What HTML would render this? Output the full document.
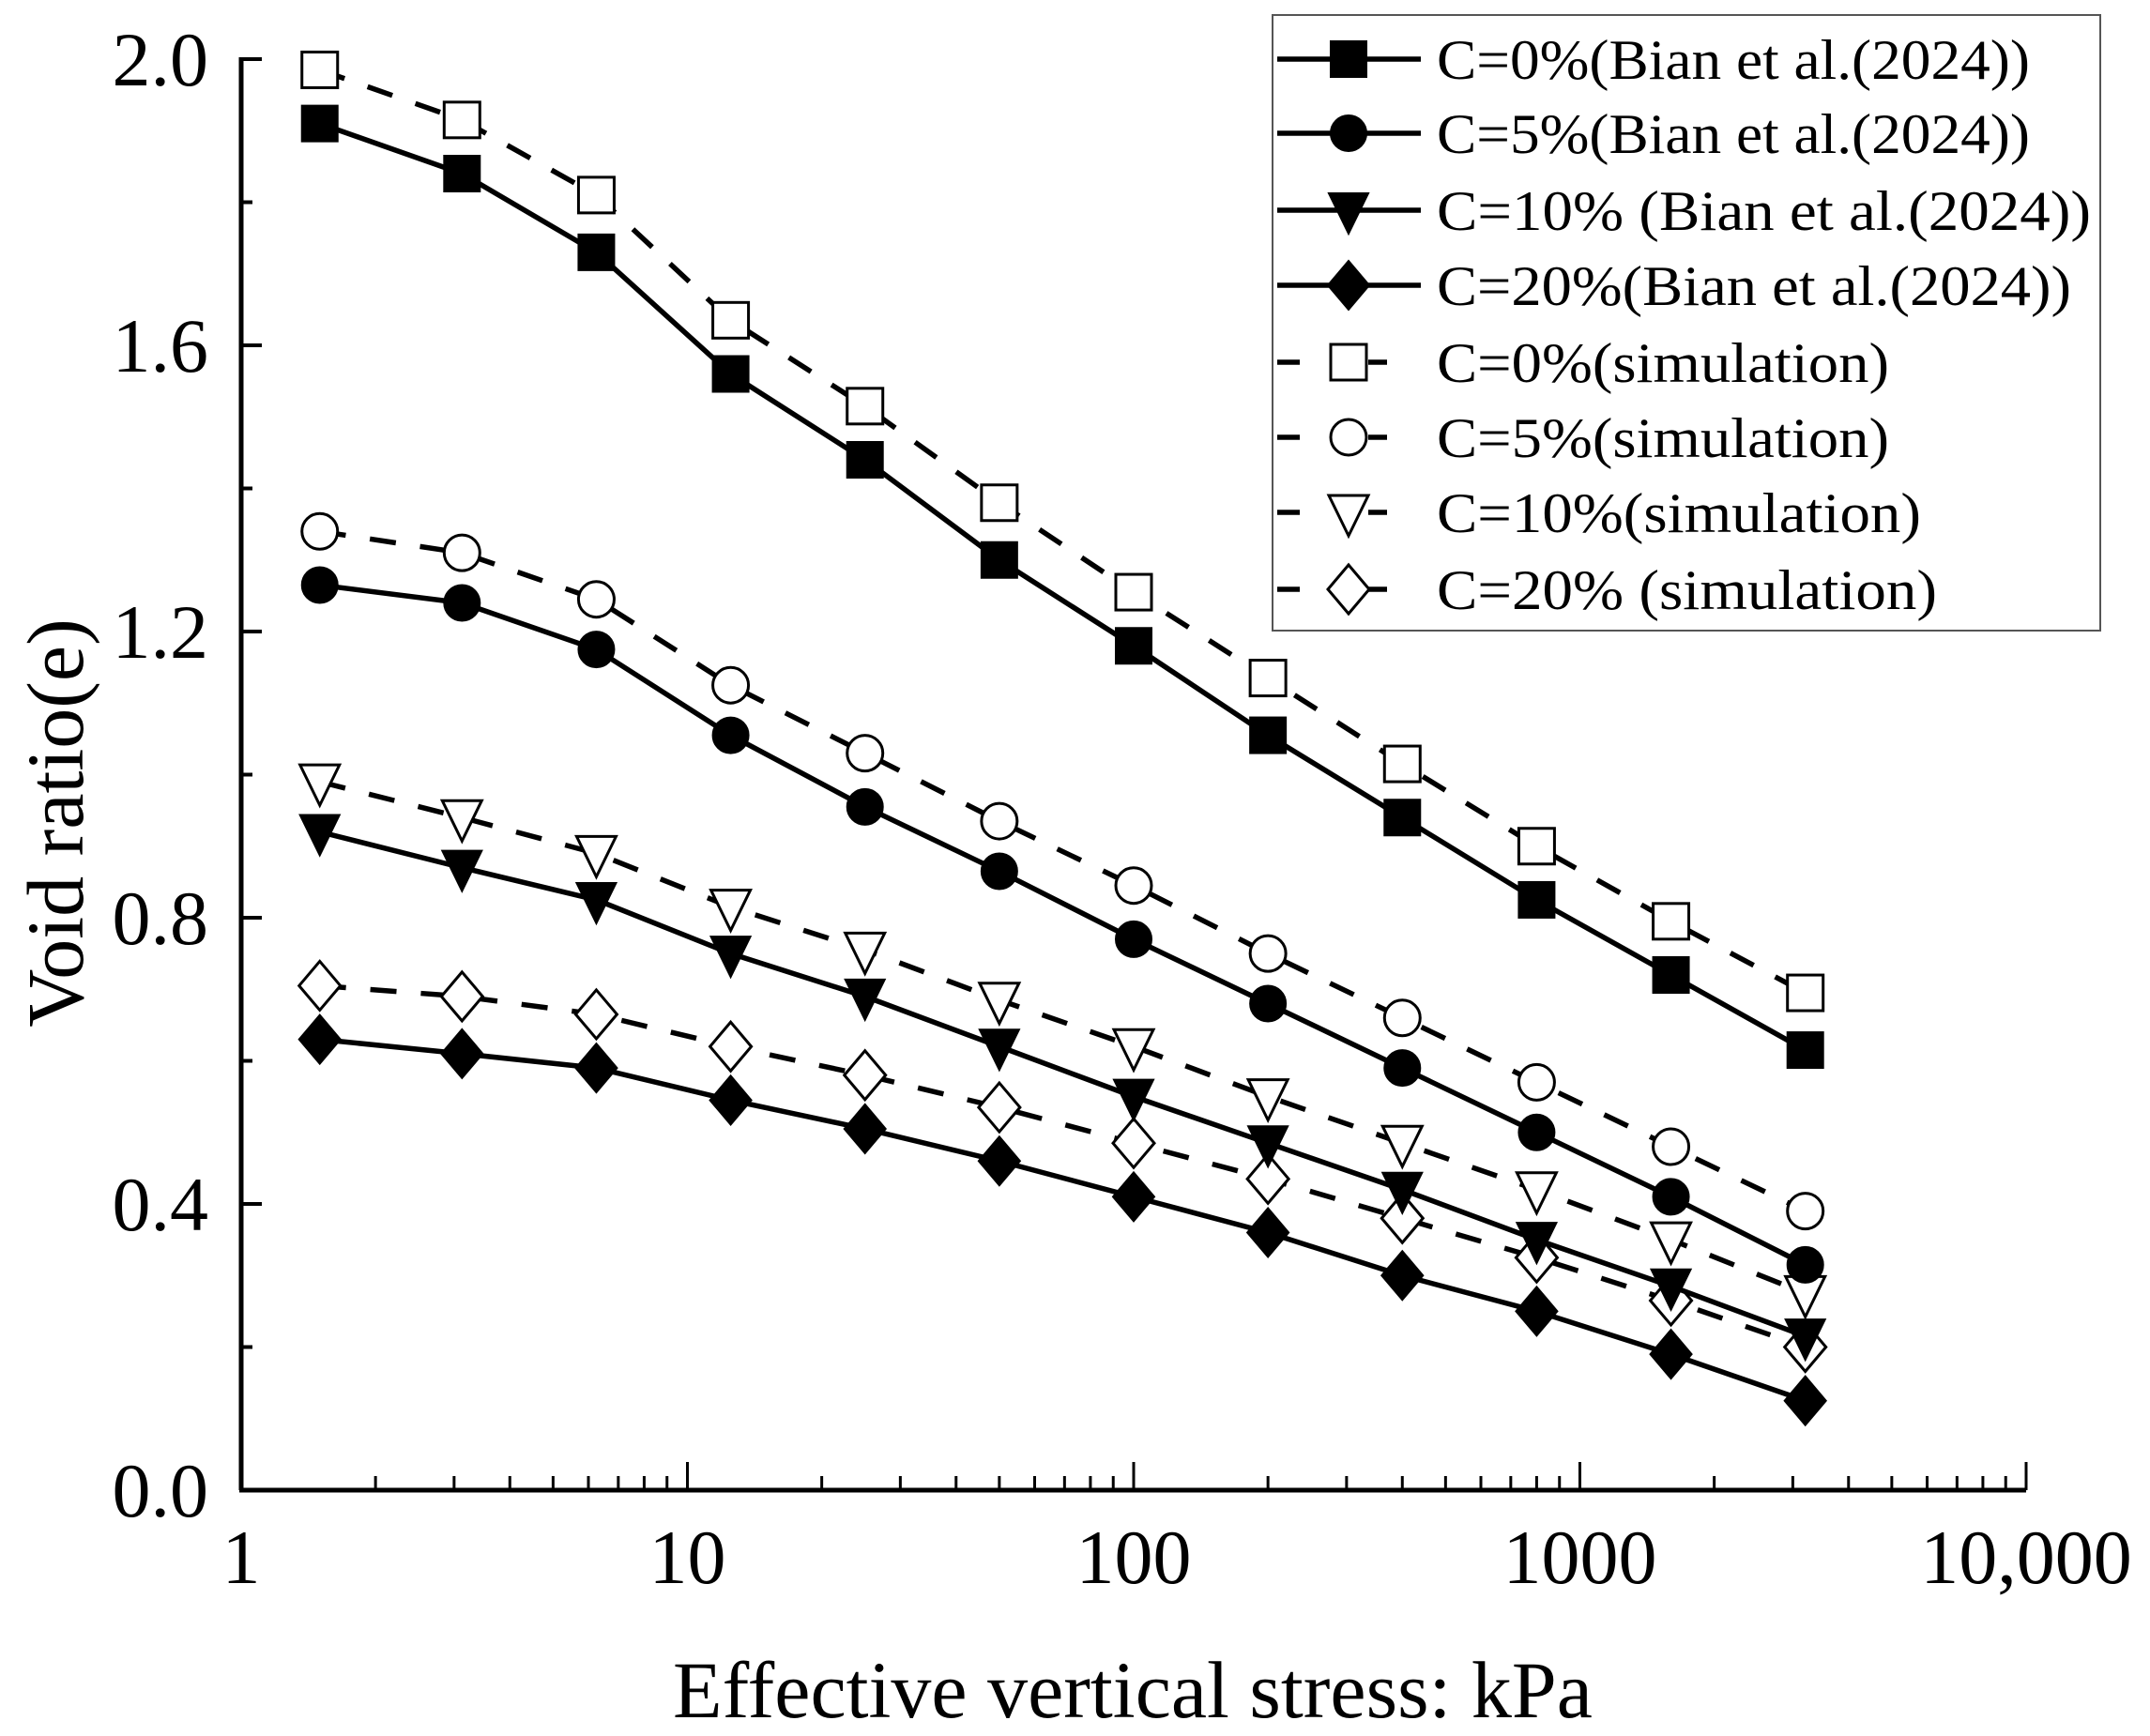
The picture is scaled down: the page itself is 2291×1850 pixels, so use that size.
<!DOCTYPE html>
<html><head><meta charset="utf-8"><style>
html,body{margin:0;padding:0;background:#fff;}
svg text{font-family:"Liberation Serif",serif;fill:#000;}
</style></head><body>
<svg id="chart" width="2291" height="1845" xmlns="http://www.w3.org/2000/svg"></svg>
<script>
const stresses=[1.5,3.125,6.25,12.5,25,50,100,200,400,800,1600,3200];
const expC0=[1.91,1.84,1.73,1.56,1.44,1.30,1.18,1.055,0.94,0.825,0.72,0.615];
const simC0=[1.985,1.915,1.81,1.635,1.515,1.38,1.255,1.135,1.015,0.9,0.795,0.695];
const expC5=[1.265,1.24,1.175,1.055,0.955,0.865,0.77,0.68,0.59,0.5,0.41,0.315];
const simC5=[1.34,1.31,1.245,1.125,1.03,0.935,0.845,0.75,0.66,0.57,0.48,0.39];
const expC10=[0.92,0.87,0.825,0.75,0.69,0.62,0.55,0.485,0.42,0.35,0.285,0.215];
const simC10=[0.99,0.94,0.89,0.815,0.755,0.685,0.62,0.55,0.485,0.42,0.35,0.275];
const expC20=[0.63,0.61,0.59,0.545,0.505,0.46,0.41,0.36,0.30,0.25,0.19,0.125];
const simC20=[0.705,0.69,0.665,0.62,0.58,0.535,0.485,0.435,0.38,0.325,0.265,0.2];
const yTicks=[0,0.4,0.8,1.2,1.6,2.0];
const yTickLabels=["0.0","0.4","0.8","1.2","1.6","2.0"];
const xTicks=[1,10,100,1000,10000];
const xTickLabels=["1","10","100","1000","10,000"];

const NS="http://www.w3.org/2000/svg";
const svg=document.getElementById('chart');
const X0=257,X1=2159,Y0=1588,Y1=63;
function xs(v){return X0+(Math.log10(v)-0)/4*(X1-X0);}
function ys(v){return Y0-v/2*(Y0-Y1);}
function mk(tag,attrs,parent){const e=document.createElementNS(NS,tag);for(const k in attrs)e.setAttribute(k,attrs[k]);(parent||svg).appendChild(e);return e;}

let ax=mk('line',{x1:X0,y1:Y0,x2:X0,y2:Y1-2,stroke:'#000','stroke-width':5});


ax=mk('line',{x1:X0-2,y1:Y0,x2:X1,y2:Y0,stroke:'#000','stroke-width':5});



for(let i=0;i<yTicks.length;i++){
  const y=ys(yTicks[i]);
  const t=mk('line',{x1:X0,y1:y,x2:X0+22,y2:y,stroke:'#000','stroke-width':4});
  
  
  if(i<yTicks.length-1){
    const ym=ys(yTicks[i]+0.2);
    const m=mk('line',{x1:X0,y1:ym,x2:X0+12,y2:ym,stroke:'#000','stroke-width':4});
    
    
  }
  const l=mk('text',{x:222,y:y+28,'font-size':82,'text-anchor':'end'});
  l.textContent=yTickLabels[i];
  
  
}
for(let i=0;i<xTicks.length;i++){
  const x=xs(xTicks[i]);
  const t=mk('line',{x1:x,y1:Y0,x2:x,y2:Y0-30,stroke:'#000','stroke-width':3});
  
  
  if(i<xTicks.length-1){
    for(let k=2;k<=9;k++){
      const xm=xs(xTicks[i]*k);
      const m=mk('line',{x1:xm,y1:Y0,x2:xm,y2:Y0-15,stroke:'#000','stroke-width':3});
      
      
    }
  }
  const l=mk('text',{x:x,y:1687,'font-size':82,'text-anchor':'middle'});
  l.textContent=xTickLabels[i];
  
  
}
let tt=mk('text',{x:1207,y:1830,'font-size':86,'text-anchor':'middle'});
tt.textContent='Effective vertical stress: kPa';


tt=mk('text',{x:0,y:0,'font-size':86,'text-anchor':'middle',transform:'translate(88,877) rotate(-90)'});
tt.textContent='Void ratio(e)';



function marker(type,filled,cx,cy,g){
  const st={fill:filled?'#000':'#fff',stroke:'#000','stroke-width':filled?2:3};
  let e;
  if(type==='square'){e=mk('rect',Object.assign({x:cx-19,y:cy-19,width:38,height:38},st),g);}
  else if(type==='circle'){e=mk('circle',Object.assign({cx:cx,cy:cy,r:19},st),g);}
  else if(type==='tri'){e=mk('polygon',Object.assign({points:`${cx-21},${cy-18} ${cx+21},${cy-18} ${cx},${cy+25}`},st),g);}
  else {e=mk('polygon',Object.assign({points:`${cx},${cy-26} ${cx+22},${cy} ${cx},${cy+26} ${cx-22},${cy}`},st),g);}
  return e;
}
const series=[
 {d:expC0,m:'square',f:true,name:'C=0%(Bian et al.(2024))',id:'c0-experiment'},
 {d:expC5,m:'circle',f:true,name:'C=5%(Bian et al.(2024))',id:'c5-experiment'},
 {d:expC10,m:'tri',f:true,name:'C=10% (Bian et al.(2024))',id:'c10-experiment'},
 {d:expC20,m:'diamond',f:true,name:'C=20%(Bian et al.(2024))',id:'c20-experiment'},
 {d:simC0,m:'square',f:false,name:'C=0%(simulation)',id:'c0-simulation'},
 {d:simC5,m:'circle',f:false,name:'C=5%(simulation)',id:'c5-simulation'},
 {d:simC10,m:'tri',f:false,name:'C=10%(simulation)',id:'c10-simulation'},
 {d:simC20,m:'diamond',f:false,name:'C=20% (simulation)',id:'c20-simulation'}
];
const drawOrder=[4,5,6,7,0,1,2,3];
for(const si of drawOrder){
  const s=series[si];
  const g=mk('g',{});
  
  
  const pts=s.d.map((v,i)=>xs(stresses[i])+','+ys(v)).join(' ');
  const pl=mk('polyline',{points:pts,fill:'none',stroke:'#000','stroke-width':5.5,'stroke-dasharray':s.f?'none':'28,26'},g);
  
  
  s.d.forEach((v,i)=>{
    const e=marker(s.m,s.f,xs(stresses[i]),ys(v),g);
    
    
  });
}
const lg=mk('g',{});


const box=mk('rect',{x:1356,y:16,width:882,height:656,fill:'#fff',stroke:'#555','stroke-width':2},lg);


const rowY=[63,142,224,304,386,466,546,628];
const textW=[632,632,697,676,482,482,516,533];
series.forEach((s,i)=>{
  const g=mk('g',{},lg);
  
  
  const y=rowY[i];
  if(s.f){mk('line',{x1:1361,y1:y,x2:1514,y2:y,stroke:'#000','stroke-width':5.5},g);}
  else{mk('line',{x1:1361,y1:y,x2:1385,y2:y,stroke:'#000','stroke-width':5.5},g);mk('line',{x1:1458,y1:y,x2:1478,y2:y,stroke:'#000','stroke-width':5.5},g);}
  marker(s.m,s.f,1437,y,g);
  const t=mk('text',{x:1531,y:y+21,'font-size':60,textLength:textW[i],lengthAdjust:'spacingAndGlyphs'},g);
  t.textContent=s.name;
  
  
});
</script>
</body></html>
